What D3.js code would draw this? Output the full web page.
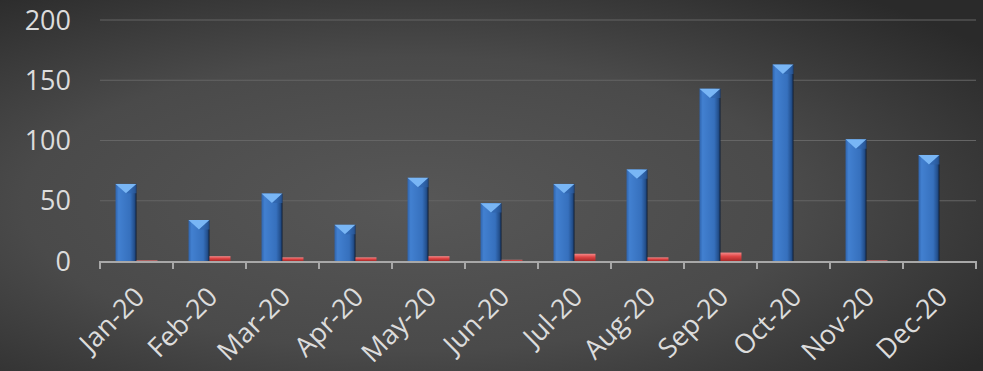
<!DOCTYPE html>
<html>
<head>
<meta charset="utf-8">
<script src="https://cdn.jsdelivr.net/npm/d3@7"></script>
<style>
  html, body { margin: 0; padding: 0; background: #3a3a3a; }
  svg { display: block; }
  text { font-family: "Open Sans", "Noto Sans", sans-serif; }
</style>
</head>
<body>
<svg id="chart" width="983" height="371"></svg>
<script>
// Monthly counts for 2020
const months = ["Jan-20","Feb-20","Mar-20","Apr-20","May-20","Jun-20","Jul-20","Aug-20","Sep-20","Oct-20","Nov-20","Dec-20"];
const seriesA = [64, 34, 56, 30, 69, 48, 64, 76, 143, 163, 101, 88];
const seriesB = [0.5, 4, 3, 3, 4, 1, 6, 3, 7, 0, 0.5, 0];
const yTicks = [0, 50, 100, 150, 200];

const W = 983, H = 371;
const margin = { left: 100, right: 7, top: 20, bottom: 110 };
const svg = d3.select("#chart");
const defs = svg.append("defs");

// Background: soft radial glow, darker towards the corners
const bg = defs.append("radialGradient").attr("id", "bgGrad")
  .attr("cx", "42%").attr("cy", "55%").attr("r", "72%");
bg.append("stop").attr("offset", "0%").attr("stop-color", "#575757");
bg.append("stop").attr("offset", "55%").attr("stop-color", "#4a4a4a");
bg.append("stop").attr("offset", "100%").attr("stop-color", "#2a2a2a");
svg.append("rect").attr("width", W).attr("height", H).attr("fill", "url(#bgGrad)");

// Bevelled bar fill
const bgr = defs.append("linearGradient").attr("id", "blueGrad").attr("x1", 0).attr("x2", 1).attr("y1", 0).attr("y2", 0);
bgr.append("stop").attr("offset", "0%").attr("stop-color", "#2f64ad");
bgr.append("stop").attr("offset", "15%").attr("stop-color", "#4280d0");
bgr.append("stop").attr("offset", "70%").attr("stop-color", "#3670bd");
bgr.append("stop").attr("offset", "90%").attr("stop-color", "#234f8c");
bgr.append("stop").attr("offset", "100%").attr("stop-color", "#0f1f38");
const rg = defs.append("linearGradient").attr("id", "redGrad").attr("x1", 0).attr("x2", 0).attr("y1", 0).attr("y2", 1);
rg.append("stop").attr("offset", "0%").attr("stop-color", "#f58a8a");
rg.append("stop").attr("offset", "45%").attr("stop-color", "#e04646");
rg.append("stop").attr("offset", "100%").attr("stop-color", "#a82828");

const x = d3.scaleBand().domain(months).range([margin.left, W - margin.right]).paddingInner(0).paddingOuter(0);
const inner = d3.scaleBand().domain(["a", "b"]).range([0, x.bandwidth()]).paddingInner(0).paddingOuter(0.74);
const y = d3.scaleLinear().domain([0, 200]).range([H - margin.bottom, margin.top]);

// Gridlines
svg.append("g").selectAll("line").data(yTicks.slice(1)).join("line")
  .attr("x1", margin.left).attr("x2", W - margin.right)
  .attr("y1", d => y(d)).attr("y2", d => y(d))
  .attr("stroke", "#656565").attr("stroke-width", 1.2);

// Y axis labels
svg.append("g").selectAll("text").data(yTicks).join("text")
  .attr("x", 71).attr("y", d => y(d)).attr("dy", "0.36em")
  .attr("text-anchor", "end").attr("fill", "#dcdcdc")
  .attr("font-size", 27).text(d => d);

// Blue bars with a pointed bevel cap
const bw = inner.bandwidth();
const gA = svg.append("g");
months.forEach((m, i) => {
  const x0 = x(m) + inner("a"), top = y(seriesA[i]), base = y(0);
  gA.append("rect").attr("x", x0).attr("y", top).attr("width", bw).attr("height", base - top)
    .attr("fill", "url(#blueGrad)");
  gA.append("path")
    .attr("d", `M${x0},${top}L${x0 + bw},${top}L${x0 + bw / 2},${top + bw * 0.45}Z`)
    .attr("fill", "#79b6f5");
  gA.append("path")
    .attr("d", `M${x0 + bw},${top}L${x0 + bw / 2},${top + bw * 0.45}L${x0 + bw},${top + bw * 0.45}Z`)
    .attr("fill", "#2e62a8").attr("opacity", 0.6);
});

// Red bars
svg.append("g").selectAll("rect").data(seriesB).join("rect")
  .attr("x", (d, i) => x(months[i]) + inner("b"))
  .attr("y", d => y(d))
  .attr("width", bw)
  .attr("height", d => y(0) - y(d))
  .attr("fill", "url(#redGrad)");

// X axis line and ticks
const ax = svg.append("g");
ax.append("line").attr("x1", margin.left).attr("x2", W - margin.right)
  .attr("y1", y(0) + 1).attr("y2", y(0) + 1).attr("stroke", "#a8a8a8").attr("stroke-width", 2);
const tickXs = months.map(m => x(m)).concat([W - margin.right]);
ax.selectAll("line.t").data(tickXs).join("line").attr("class", "t")
  .attr("x1", d => d).attr("x2", d => d)
  .attr("y1", y(0)).attr("y2", y(0) + 8)
  .attr("stroke", "#a8a8a8").attr("stroke-width", 2);

// Rotated month labels
svg.append("g").selectAll("text").data(months).join("text")
  .attr("transform", m => `translate(${x(m) + x.bandwidth() / 2 + 3},${y(0) + 31}) rotate(-45)`)
  .attr("text-anchor", "end").attr("dy", "0.35em")
  .attr("fill", "#dcdcdc").attr("font-size", 27).text(m => m);
</script>
</body>
</html>
